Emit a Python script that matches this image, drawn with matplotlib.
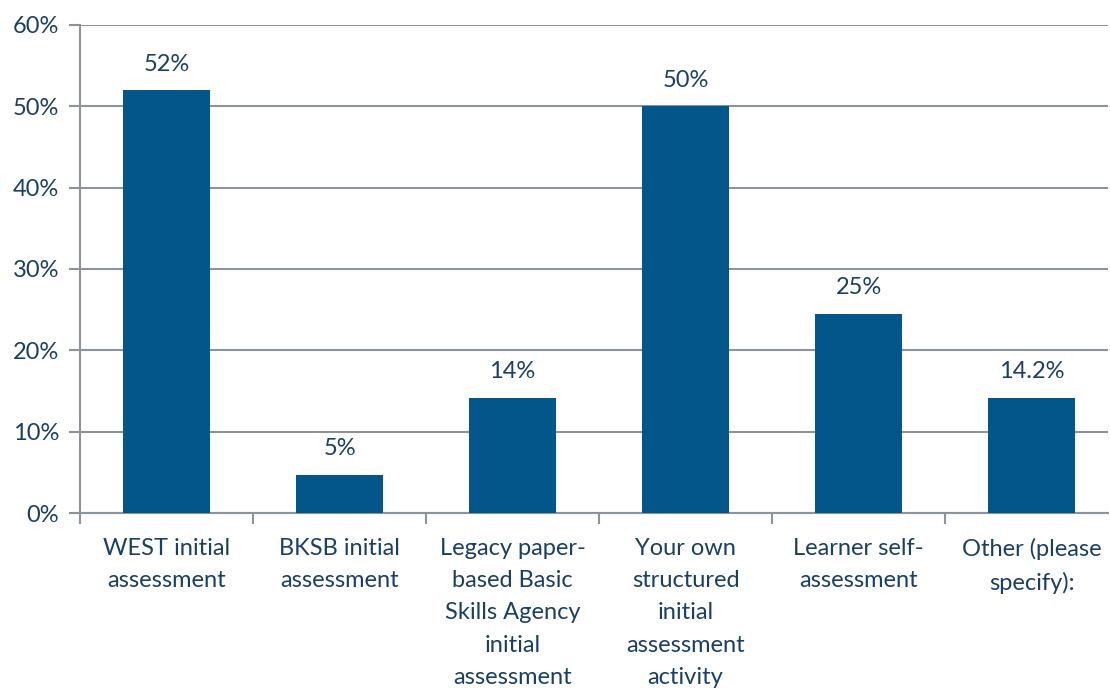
import numpy as np
import matplotlib.pyplot as plt
from matplotlib.ticker import FixedLocator, PercentFormatter

categories = ["WEST initial\nassessment",
              "BKSB initial\nassessment",
              "Legacy paper-\nbased Basic\nSkills Agency\ninitial\nassessment",
              "Your own\nstructured\ninitial\nassessment\nactivity",
              "Learner self-\nassessment",
              "Other (please\nspecify):"]
values = [52, 4.7, 14.2, 50, 24.5, 14.2]
labels = ["52%", "5%", "14%", "50%", "25%", "14.2%"]

bar_color = "#03568A"
text_color = "#1B3F63"
grid_color = "#8C939D"

plt.rcParams['font.family'] = ['Lato', 'DejaVu Sans']

fig = plt.figure(figsize=(11.1, 6.89), dpi=100)
ax = fig.add_axes([80 / 1110, 1 - 513 / 689, 1028 / 1110, 488 / 689])

x = np.arange(len(categories))
ax.bar(x, values, width=0.5, color=bar_color, zorder=3)

# value labels above bars
for xi, v, lab in zip(x, values, labels):
    ax.annotate(lab, (xi, v), xytext=(0, 11), textcoords="offset points",
                ha="center", va="bottom", fontsize=17, color=text_color)

ax.set_ylim(0, 60)
ax.set_xlim(-0.5, 5.442)
ax.set_yticks(np.arange(0, 61, 10))
ax.yaxis.set_major_formatter(PercentFormatter(decimals=0))
ax.yaxis.grid(True, color=grid_color, linewidth=1.5, zorder=0)

ax.set_xticks(x)
ax.set_xticklabels(categories, fontsize=17, color=text_color, linespacing=1.66,
                   va="top")
ax.xaxis.set_minor_locator(FixedLocator(np.arange(-0.5, 5.0, 1.0)))
ax.tick_params(axis="x", which="major", length=0, pad=18)
ax.tick_params(axis="x", which="minor", length=8, width=1.5, color=grid_color)
ax.tick_params(axis="y", length=8, width=1.5, color=grid_color, pad=7,
               labelsize=17, labelcolor=text_color)

for side in ["top", "right"]:
    ax.spines[side].set_visible(False)
for side in ["left", "bottom"]:
    ax.spines[side].set_color(grid_color)
    ax.spines[side].set_linewidth(1.5)

fig.savefig("out.png", dpi=100)
